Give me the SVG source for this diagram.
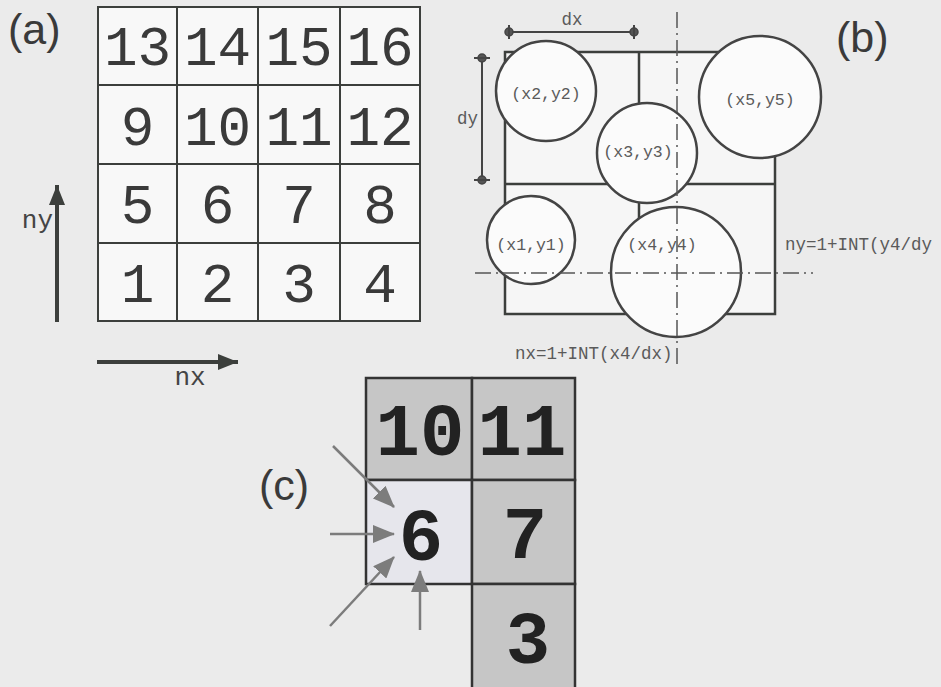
<svg xmlns="http://www.w3.org/2000/svg" width="941" height="687" viewBox="0 0 941 687">
<style>
.bg{fill:#ebebeb}
.ga{fill:#f8f8f8;stroke:#3c3f3c;stroke-width:2}
.na{font-family:"Liberation Mono","Courier New",monospace;font-size:56px;fill:#3a3a3a;text-anchor:middle}
.lbl{font-family:"Liberation Sans",Arial,sans-serif;font-size:43px;fill:#3a3a3a}
.ax{stroke:#3c3f3c;stroke-width:4;fill:none}
.axl{font-family:"Liberation Mono","Courier New",monospace;font-size:26px;fill:#444}
.gb{fill:#f6f6f6;stroke:#3c3f3c;stroke-width:2.5}
.ln{stroke:#3c3f3c;stroke-width:2.5;fill:none}
.circ{fill:#fbfbfb;stroke:#444;stroke-width:2.5}
.dd{stroke:#555;stroke-width:1.5;stroke-dasharray:16 5 2 5;fill:none}
.tb{font-family:"Liberation Mono","Courier New",monospace;font-size:16.5px;fill:#5a5a5a;text-anchor:middle}
.tf{font-family:"Liberation Mono","Courier New",monospace;font-size:17.5px;fill:#5a5a5a}
.dim{stroke:#444;stroke-width:2;fill:none}
.mk{fill:#555;stroke:#444;stroke-width:1.5}
.cg{fill:#c6c6c6;stroke:#333;stroke-width:2.5}
.cl{fill:#e6e6ec;stroke:#333;stroke-width:2.5}
.nc{font-family:"Liberation Mono","DejaVu Sans Mono",monospace;font-weight:bold;font-size:74px;fill:#222;text-anchor:middle}
.arr{stroke:#7c7c7c;stroke-width:2.5;fill:none;marker-end:url(#ahg)}
</style>
<defs>
<marker id="ahd" markerUnits="userSpaceOnUse" markerWidth="20" markerHeight="16" refX="20" refY="8" orient="auto">
<path d="M0,0 L20,8 L0,16 z" fill="#3c3f3c"/>
</marker>
<marker id="ahg" markerUnits="userSpaceOnUse" markerWidth="22" markerHeight="18" refX="21" refY="9" orient="auto">
<path d="M0,0 L22,9 L0,18 z" fill="#7c7c7c"/>
</marker>
</defs>
<rect class="bg" x="0" y="0" width="941" height="687"/>

<!-- Panel (a) -->
<g id="panel-a">
<text class="lbl" x="8" y="44">(a)</text>
<g id="a-cell-13"><rect class="ga" x="98" y="7" width="79" height="78"/><text class="na" x="137.5" y="65">13</text></g>
<g id="a-cell-14"><rect class="ga" x="177" y="7" width="81" height="78"/><text class="na" x="217.5" y="65">14</text></g>
<g id="a-cell-15"><rect class="ga" x="258" y="7" width="82" height="78"/><text class="na" x="299" y="65">15</text></g>
<g id="a-cell-16"><rect class="ga" x="340" y="7" width="80" height="78"/><text class="na" x="380" y="65">16</text></g>
<g id="a-cell-9"><rect class="ga" x="98" y="85" width="79" height="79"/><text class="na" x="137.5" y="145">9</text></g>
<g id="a-cell-10"><rect class="ga" x="177" y="85" width="81" height="79"/><text class="na" x="217.5" y="145">10</text></g>
<g id="a-cell-11"><rect class="ga" x="258" y="85" width="82" height="79"/><text class="na" x="299" y="145">11</text></g>
<g id="a-cell-12"><rect class="ga" x="340" y="85" width="80" height="79"/><text class="na" x="380" y="145">12</text></g>
<g id="a-cell-5"><rect class="ga" x="98" y="164" width="79" height="79"/><text class="na" x="137.5" y="223">5</text></g>
<g id="a-cell-6"><rect class="ga" x="177" y="164" width="81" height="79"/><text class="na" x="217.5" y="223">6</text></g>
<g id="a-cell-7"><rect class="ga" x="258" y="164" width="82" height="79"/><text class="na" x="299" y="223">7</text></g>
<g id="a-cell-8"><rect class="ga" x="340" y="164" width="80" height="79"/><text class="na" x="380" y="223">8</text></g>
<g id="a-cell-1"><rect class="ga" x="98" y="243" width="79" height="78"/><text class="na" x="137.5" y="302">1</text></g>
<g id="a-cell-2"><rect class="ga" x="177" y="243" width="81" height="78"/><text class="na" x="217.5" y="302">2</text></g>
<g id="a-cell-3"><rect class="ga" x="258" y="243" width="82" height="78"/><text class="na" x="299" y="302">3</text></g>
<g id="a-cell-4"><rect class="ga" x="340" y="243" width="80" height="78"/><text class="na" x="380" y="302">4</text></g>
<g id="a-axes">
<line class="ax" x1="57" y1="322" x2="57" y2="185" marker-end="url(#ahd)"/>
<text class="axl" x="53" y="228" text-anchor="end">ny</text>
<line class="ax" x1="97" y1="362" x2="238" y2="362" marker-end="url(#ahd)"/>
<text class="axl" x="190" y="385" text-anchor="middle">nx</text>
</g>
</g>

<!-- Panel (b) -->
<g id="panel-b">
<text class="lbl" x="836" y="52">(b)</text>
<g id="b-grid">
<rect class="gb" x="505" y="52" width="270" height="262"/>
<line class="ln" x1="505" y1="184" x2="775" y2="184"/>
<line class="ln" x1="639" y1="52" x2="639" y2="314"/>
</g>
<g id="b-dims">
<line class="dim" x1="509" y1="32" x2="634" y2="32"/>
<circle class="mk" cx="509" cy="32" r="4"/><line class="dim" x1="509" y1="25" x2="509" y2="39"/>
<circle class="mk" cx="634" cy="32" r="4"/><line class="dim" x1="634" y1="25" x2="634" y2="39"/>
<text class="tf" x="572" y="25" text-anchor="middle">dx</text>
<line class="dim" x1="482" y1="58" x2="482" y2="180"/>
<circle class="mk" cx="482" cy="58" r="4"/><line class="dim" x1="474" y1="58" x2="490" y2="58"/>
<circle class="mk" cx="482" cy="180" r="4"/><line class="dim" x1="474" y1="180" x2="490" y2="180"/>
<text class="tf" x="478" y="124" text-anchor="end">dy</text>
</g>
<g id="b-p2"><circle class="circ" cx="546" cy="91" r="50"/><text class="tb" x="546" y="99">(x2,y2)</text></g>
<g id="b-p3"><circle class="circ" cx="647" cy="153" r="50"/><text class="tb" x="638" y="157">(x3,y3)</text></g>
<g id="b-p5"><circle class="circ" cx="760" cy="97" r="61"/><text class="tb" x="760" y="105">(x5,y5)</text></g>
<g id="b-p1"><circle class="circ" cx="531" cy="240" r="44"/><text class="tb" x="531" y="250">(x1,y1)</text></g>
<g id="b-p4"><circle class="circ" cx="676" cy="272" r="65"/><text class="tb" x="662" y="250">(x4,y4)</text></g>
<g id="b-axes">
<line class="dd" x1="677" y1="12" x2="677" y2="365"/>
<line class="dd" x1="475" y1="273" x2="813" y2="273"/>
<text class="tf" x="785" y="250">ny=1+INT(y4/dy</text>
<text class="tf" x="515" y="359">nx=1+INT(x4/dx)</text>
</g>
</g>

<!-- Panel (c) -->
<g id="panel-c">
<text class="lbl" x="259" y="500">(c)</text>
<g id="c-cell-10"><rect class="cg" x="366" y="378" width="106" height="102"/><text class="nc" x="420" y="455">10</text></g>
<g id="c-cell-11"><rect class="cg" x="472" y="378" width="103" height="102"/><text class="nc" x="522" y="455">11</text></g>
<g id="c-cell-6"><rect class="cl" x="366" y="480" width="106" height="104"/><text class="nc" x="421" y="560">6</text></g>
<g id="c-cell-7"><rect class="cg" x="472" y="480" width="103" height="104"/><text class="nc" x="525" y="558">7</text></g>
<g id="c-cell-3"><rect class="cg" x="472" y="584" width="103" height="110"/><text class="nc" x="528" y="663">3</text></g>
<g id="c-arrows">
<line class="arr" x1="333" y1="446" x2="394" y2="507"/>
<line class="arr" x1="330" y1="534" x2="394" y2="534"/>
<line class="arr" x1="330" y1="626" x2="394" y2="557"/>
<line class="arr" x1="420" y1="630" x2="420" y2="571"/>
</g>
</g>
</svg>
